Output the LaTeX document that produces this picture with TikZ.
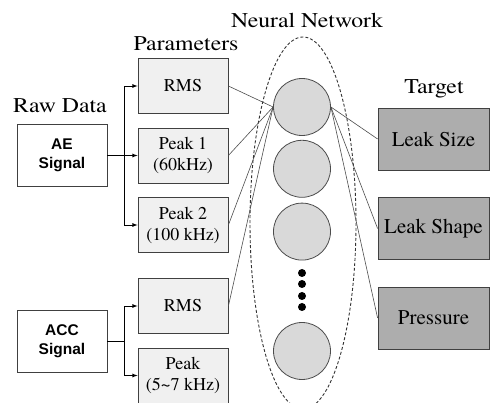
\documentclass[tikz,border=0pt]{standalone}
\usepackage{fontspec}
\setmainfont{TeX Gyre Termes}
\newfontfamily\wideserif[FakeStretch=1.13]{TeX Gyre Termes}
\newfontfamily\signalfont{Liberation Sans}
\usetikzlibrary{arrows,shapes,positioning}

\begin{document}
\begin{tikzpicture}[x=1pt,y=-1pt,>=latex,auto]
  \tikzstyle{title}=[inner sep=0pt,font=\wideserif\fontsize{21}{24}\selectfont]
  \tikzstyle{raw}=[rectangle,draw=black!75,fill=white,line width=0.8pt,minimum width=90pt,minimum height=62pt,inner sep=0pt,align=center,font=\signalfont\bfseries\fontsize{15.5}{19}\selectfont]
  \tikzstyle{param}=[rectangle,draw=black!75,fill=black!6,line width=0.8pt,minimum width=90pt,minimum height=55pt,inner sep=0pt,align=center,font=\fontsize{18}{21}\selectfont]
  \tikzstyle{neuron}=[circle,draw=black!70,fill=black!15,line width=0.8pt,minimum size=57pt,inner sep=0pt]
  \tikzstyle{target}=[rectangle,draw=black!75,fill=black!32,line width=0.8pt,minimum width=111pt,minimum height=62pt,inner sep=0pt,font=\fontsize{21}{24}\selectfont]
  \tikzstyle{link}=[draw=black!70,line width=0.6pt]

    \clip (0,0) rectangle (490,403);

    \node [title] (rawt)  at (60,106) {Raw Data};
    \node [title] (part)  at (186,44) {Parameters};
    \node [title] (nnt)   at (307,20) {Neural Network};
    \node [title] (tgtt)  at (434,89) {Target};

    \node [raw] (ae)  at (62,155.5) {AE\\Signal};
    \node [raw] (acc) at (62,341.5) {ACC\\Signal};

    \node [param] (rmsa)  at (183,86)    {RMS};
    \node [param] (peaka) at (183,155.5) {Peak 1\\(60kHz)};
    \node [param] (peakb) at (183,225)   {Peak 2\\(100 kHz)};
    \node [param] (rmsb)  at (183,306)   {RMS};
    \node [param] (peakc) at (183,375.5) {Peak\\(5\textasciitilde7 kHz)};

    % network
    \draw [black!80,line width=0.9pt,dash pattern=on 3pt off 2pt] (303,223) ellipse (53 and 186);
    \node [neuron] (na) at (302,107) {};
    \node [neuron] (nb) [below=4pt of na] {};
    \node [neuron] (nc) [below=5pt of nb] {};
    \node [neuron] (nd) at (302,351) {};
    \foreach \y in {273,284,296,307}
      \fill (302,\y) circle (4);

    \node [target] (size)  at (433.5,139)   {Leak Size};
    \node [target] (shape) at (433.5,228.5) {Leak Shape};
    \node [target] (press) at (433.5,318)   {Pressure};

    % raw data -> parameters
    \coordinate (ja) at (124,155.5);
    \coordinate (jb) at (124,341.5);
    \draw [->,line width=0.8pt] (ae) -- (peaka);
    \draw [->,line width=0.8pt] (ja) |- (rmsa.west);
    \draw [->,line width=0.8pt] (ja) |- (peakb.west);
    \draw [line width=0.8pt] (acc) -- (jb);
    \draw [->,line width=0.8pt] (jb) |- (rmsb.west);
    \draw [->,line width=0.8pt] (jb) |- (peakc.west);

    \foreach \p in {rmsa,peaka,peakb,rmsb}
      \draw [link] (\p.east) -- (na.west);
    \foreach \t in {size,shape,press}
      \draw [link] (na.east) -- (\t.west);
\end{tikzpicture}
\end{document}
